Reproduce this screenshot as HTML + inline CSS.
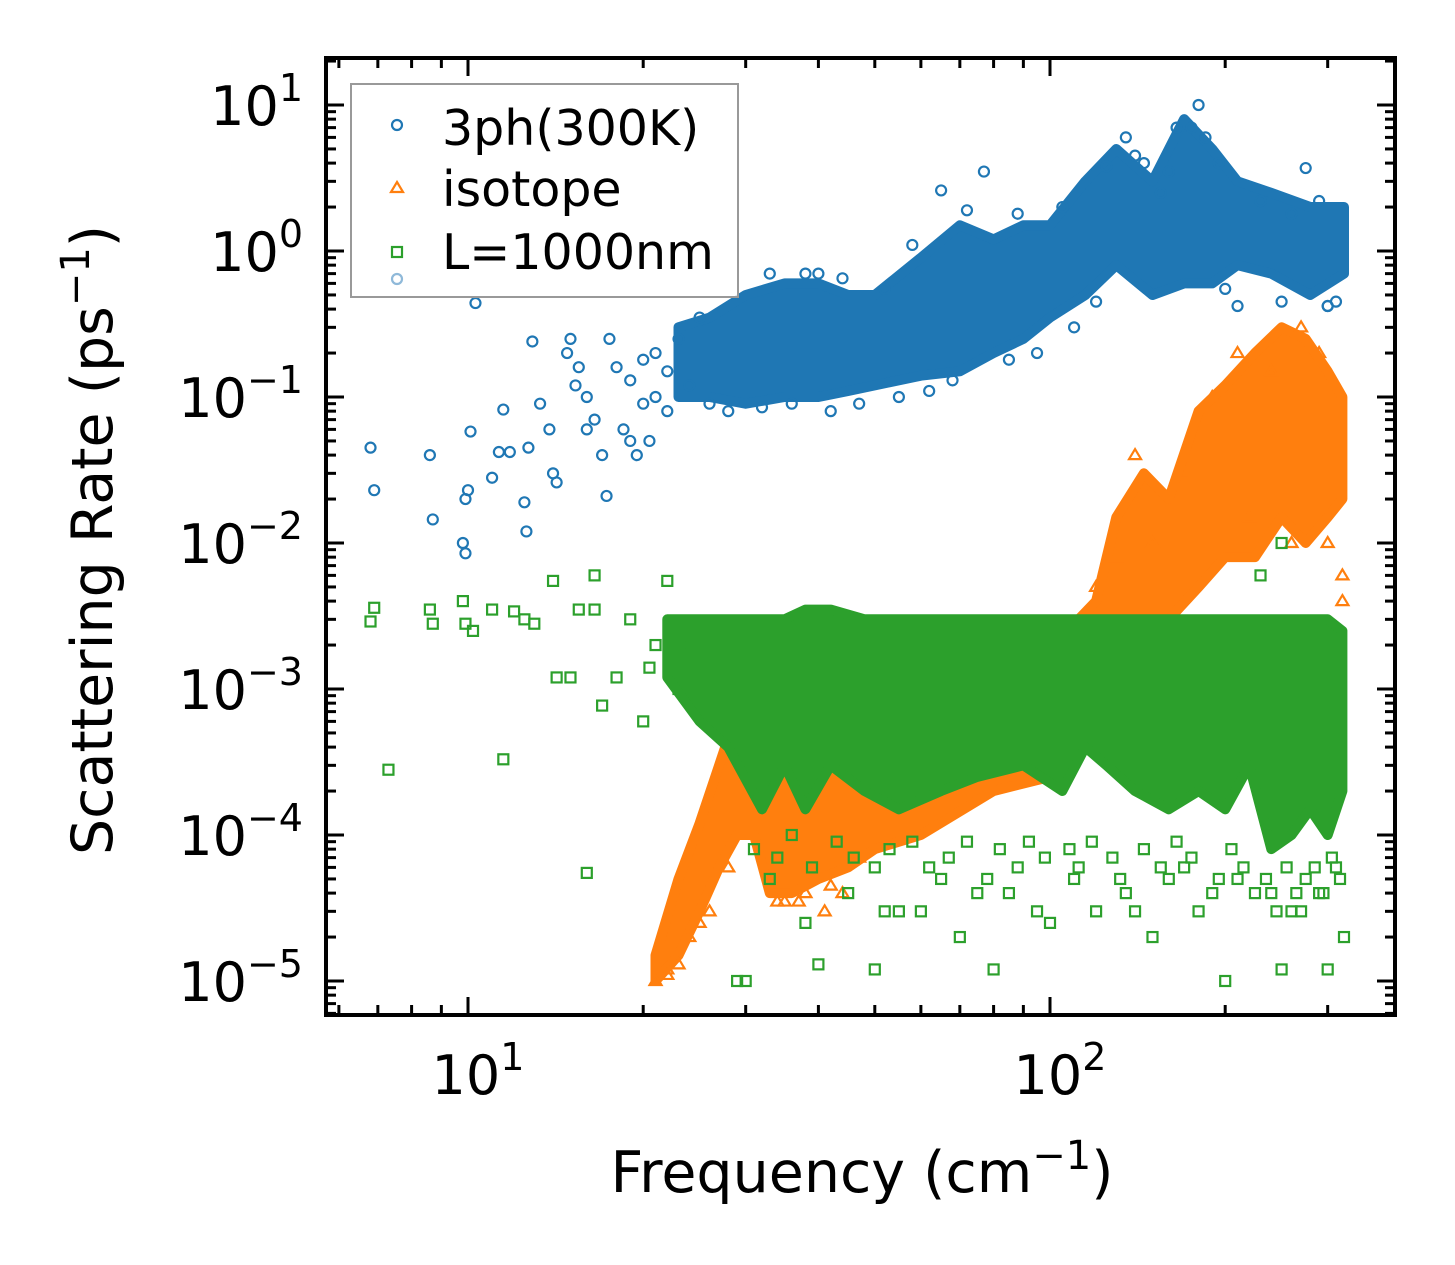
<!DOCTYPE html>
<html><head><meta charset="utf-8"><style>
html,body{margin:0;padding:0;background:#fff;}
svg{display:block;font-family:"DejaVu Sans","Liberation Sans",sans-serif;}
</style></head><body>
<svg id="chart" width="1455" height="1265" viewBox="0 0 1455 1265" xmlns="http://www.w3.org/2000/svg">
<g id="marks"></g>
<g id="axes"></g>
<g id="legend">
  <rect x="351" y="84" width="387" height="213" fill="#fff" fill-opacity="0.8" stroke="#999" stroke-width="2"/>
  <circle cx="397" cy="125" r="5" fill="none" stroke="#1f77b4" stroke-width="2.2"/>
  <text x="442" y="145" font-size="49">3ph(300K)</text>
  <path d="M397,182 L403,192 L391,192 Z" fill="none" stroke="#ff7f0e" stroke-width="2.2"/>
  <text x="442" y="206" font-size="49">isotope</text>
  <rect x="392" y="247" width="10" height="10" fill="none" stroke="#2ca02c" stroke-width="2.2"/>
  <text x="442" y="269" font-size="49">L=1000nm</text>
  <circle cx="397" cy="279" r="5" fill="none" stroke="#8fb9d9" stroke-width="2.2"/>
</g>
<text x="862" y="1192" font-size="57" text-anchor="middle">Frequency (cm<tspan dy="-23" font-size="40">−1</tspan><tspan dy="23">)</tspan></text>
<text transform="translate(112,540) rotate(-90)" font-size="57" text-anchor="middle">Scattering Rate (ps<tspan dy="-23" font-size="40">−1</tspan><tspan dy="23">)</tspan></text>
</svg>
<script>
// ---- data ----
const blueEnvF  = [23,26,30,35,40,45,50,60,70,80,90,100,115,130,150,170,190,210,240,280,320];
const blueEnvLo = [0.1,0.1,0.09,0.1,0.1,0.11,0.12,0.14,0.15,0.2,0.25,0.35,0.5,0.8,0.5,0.6,0.6,0.8,0.7,0.5,0.7];
const blueEnvHi = [0.3,0.35,0.5,0.6,0.6,0.5,0.5,0.9,1.5,1.2,1.5,1.5,3,5,3,8,5,3,2.5,2,2];
const blueF = [6.8,6.9,8.6,8.7,9.8,9.9,9.9,10,10.1,10.3,11,11.3,11.5,11.8,12.5,12.6,12.7,12.9,13.3,13.8,14,14.2,14.8,15,15.3,15.5,16,16,16.5,17,17.3,17.5,18,18.5,19,19,19.5,20,20,20.5,21,21,22,22,23,24,77,65,40,275,180,165,300,210,
  26,28,32,36,42,47,55,62,68,85,95,110,120,125,135,145,155,175,185,195,230,260,290,310,25,33,38,44,52,58,72,88,105,140,160,200,250,300];
const blueR = [0.045,0.023,0.04,0.0145,0.01,0.0085,0.02,0.023,0.058,0.44,0.028,0.042,0.082,0.042,0.019,0.012,0.045,0.24,0.09,0.06,0.03,0.026,0.2,0.25,0.12,0.16,0.1,0.06,0.07,0.04,0.021,0.25,0.16,0.06,0.05,0.13,0.04,0.09,0.18,0.05,0.2,0.1,0.15,0.08,0.25,0.12,3.5,2.6,0.7,3.7,10,7,0.42,0.42,
  0.09,0.08,0.085,0.09,0.08,0.09,0.1,0.11,0.13,0.18,0.2,0.3,0.45,3.8,6,4,2.5,7,6,4,2.2,1.8,2.2,0.45,0.35,0.7,0.7,0.65,0.55,1.1,1.9,1.8,2,4.5,3.5,0.55,0.45,0.42];
const orEnvF  = [21,23,25,27,29,31,33,36,40,45,50,60,80,100,112,120,130,145,160,180,200,225,250,275,300,318];
const orEnvLo = [1e-5,1.5e-5,3e-5,6e-5,1e-4,1e-4,4e-5,4e-5,5e-5,6e-5,8e-5,1e-4,2e-4,2.5e-4,4e-4,8e-4,1.5e-3,2e-3,3e-3,5e-3,8e-3,8e-3,1.5e-2,1e-2,1.5e-2,2e-2];
const orEnvHi = [1.5e-5,5e-5,1.2e-4,3e-4,7e-4,8e-4,2e-4,3e-4,5e-4,8e-4,1e-3,1e-3,1e-3,1.2e-3,3e-3,4e-3,1.5e-2,3e-2,2e-2,8e-2,0.12,0.2,0.3,0.25,0.15,0.1];
const orF = [21,22,24,26,28,34,37,41,44,115,130,150,220,260,300,318,318,22,23,25,35,38,42,47,120,140,170,190,210,240,270,290];
const orR = [1e-5,1.2e-5,2e-5,3e-5,6e-5,3.5e-5,3.5e-5,3e-5,4e-5,1e-3,8e-3,1e-2,1.5e-2,1e-2,1e-2,6e-3,4e-3,1.1e-5,1.3e-5,2.5e-5,3.5e-5,4e-5,4.5e-5,7e-5,5e-3,4e-2,3e-2,0.1,0.2,0.15,0.3,0.2];
const grEnvF  = [22,25,28,32,35,38,42,48,55,65,75,90,105,115,125,140,160,180,200,220,240,260,280,300,318];
const grEnvLo = [1.2e-3,6e-4,4e-4,1.5e-4,3e-4,1.5e-4,3e-4,2e-4,1.5e-4,2e-4,2.5e-4,3e-4,2e-4,4e-4,3e-4,2e-4,1.5e-4,2e-4,1.5e-4,3e-4,8e-5,1e-4,1.5e-4,1e-4,2e-4];
const grEnvHi = [3e-3,3e-3,3e-3,3e-3,3e-3,3.5e-3,3.5e-3,3e-3,3e-3,3e-3,3e-3,3e-3,3e-3,3e-3,3e-3,3e-3,3e-3,3e-3,3e-3,3e-3,3e-3,3e-3,3e-3,3e-3,2.5e-3];
const grF = [6.8,6.9,7.3,8.6,8.7,9.8,9.9,10.2,11,11.5,12,12.5,13,14,14.2,15,15.5,16,16.5,16.5,17,18,19,20,20.5,21,22,23,24,29,30,40,50,80,100,150,200,250,300,320,60,70,120,180,270,230,250,33,45,55,65,85,95,110,135,170,190,210,260,290,310,38,52,75,140,160,240,
  31,34,36,39,43,46,50,53,58,62,67,72,78,82,88,92,98,108,112,118,128,132,145,155,165,175,195,205,215,225,235,245,255,265,275,285,295,305,315];
const grR = [2.9e-3,3.6e-3,2.8e-4,3.5e-3,2.8e-3,4e-3,2.8e-3,2.5e-3,3.5e-3,3.3e-4,3.4e-3,3e-3,2.8e-3,5.5e-3,1.2e-3,1.2e-3,3.5e-3,5.5e-5,6e-3,3.5e-3,7.7e-4,1.2e-3,3e-3,6e-4,1.4e-3,2e-3,5.5e-3,1e-3,2e-3,1e-5,1e-5,1.3e-5,1.2e-5,1.2e-5,2.5e-5,2e-5,1e-5,1.2e-5,1.2e-5,2e-5,3e-5,2e-5,3e-5,3e-5,3e-5,6e-3,1e-2,5e-5,4e-5,3e-5,5e-5,4e-5,3e-5,5e-5,4e-5,6e-5,4e-5,5e-5,3e-5,4e-5,6e-5,2.5e-5,3e-5,4e-5,3e-5,5e-5,4e-5,
  8e-5,7e-5,1e-4,6e-5,9e-5,7e-5,6e-5,8e-5,9e-5,6e-5,7e-5,9e-5,5e-5,8e-5,6e-5,9e-5,7e-5,8e-5,6e-5,9e-5,7e-5,5e-5,8e-5,6e-5,9e-5,7e-5,5e-5,8e-5,6e-5,4e-5,5e-5,3e-5,6e-5,4e-5,5e-5,6e-5,4e-5,7e-5,5e-5];
const xTickVals = [1,2];
const xTickLabels = ["1","2"];
const yTickVals = [1,0,-1,-2,-3,-4,-5];
const yTickLabels = ["1","0","−1","−2","−3","−4","−5"];

// ---- axes functions ----
const L=326,R=1395,T=58,B=1015;
const X = f => 468 + (Math.log10(f)-1)*582;
const Y = r => 251 - Math.log10(r)*146;
const NS="http://www.w3.org/2000/svg";
const marks=document.getElementById('marks'), axes=document.getElementById('axes');
function mk(tag,attrs,parent){const e=document.createElementNS(NS,tag);for(const k in attrs)e.setAttribute(k,attrs[k]);parent.appendChild(e);return e;}

const clip=mk('clipPath',{id:'pc'},marks);mk('rect',{x:L,y:T,width:R-L,height:B-T},clip);
function envelope(F,Lo,Hi,color,name){
  let d='M'+F.map((f,i)=>X(f).toFixed(1)+','+Y(Hi[i]).toFixed(1)).join(' L');
  for(let i=F.length-1;i>=0;i--) d+=' L'+X(F[i]).toFixed(1)+','+Y(Lo[i]).toFixed(1);
  d+=' Z';
  const p=mk('path',{d:d,fill:color,stroke:color,'stroke-width':10,'stroke-linejoin':'round','clip-path':'url(#pc)'},marks);
  
  
}
function scatter(F,Rr,color,shape,name){
  const g=mk('g',{fill:'none',stroke:color,'stroke-width':2.2,'clip-path':'url(#pc)'},marks);
  
  
  F.forEach((f,i)=>{const x=X(f),y=Y(Rr[i]);let e;
    if(shape==='c') e=mk('circle',{cx:x,cy:y,r:5},g);
    else if(shape==='t') e=mk('path',{d:`M${x},${y-6} L${x+6},${y+4} L${x-6},${y+4} Z`},g);
    else e=mk('rect',{x:x-5,y:y-5,width:10,height:10},g);
    
    
  });
}
envelope(blueEnvF,blueEnvLo,blueEnvHi,'#1f77b4','series-3ph-dense');
scatter(blueF,blueR,'#1f77b4','c','series-3ph-points');
envelope(orEnvF,orEnvLo,orEnvHi,'#ff7f0e','series-isotope-dense');
scatter(orF,orR,'#ff7f0e','t','series-isotope-points');
envelope(grEnvF,grEnvLo,grEnvHi,'#2ca02c','series-boundary-dense');
scatter(grF,grR,'#2ca02c','s','series-boundary-points');

// frame
const fr=mk('rect',{x:L,y:T,width:R-L,height:B-T,fill:'none',stroke:'#000','stroke-width':4},axes);


for(let dec=0;dec<=2;dec++){for(let m=1;m<=9;m++){const v=m*Math.pow(10,dec);const x=X(v);if(x<L||x>R)continue;
  const len=m===1?18:10;
  const t1=mk('line',{x1:x,y1:B,x2:x,y2:B-len,stroke:'#000','stroke-width':3},axes);
  
  
  const t2=mk('line',{x1:x,y1:T,x2:x,y2:T+len,stroke:'#000','stroke-width':3},axes);
  
  
}}
for(let e=-6;e<=1;e++){for(let m=1;m<=9;m++){const v=m*Math.pow(10,e);const y=Y(v);if(y<T||y>B)continue;
  const len=m===1?18:10;
  const t1=mk('line',{x1:L,y1:y,x2:L+len,y2:y,stroke:'#000','stroke-width':3},axes);
  
  
  const t2=mk('line',{x1:R,y1:y,x2:R-len,y2:y,stroke:'#000','stroke-width':3},axes);
  
  
}}
xTickVals.forEach((e,i)=>{const x=X(Math.pow(10,e));
  const t=mk('text',{x:x+10,y:1094,'font-size':54,'text-anchor':'middle'},axes);
  
  
  t.innerHTML='10<tspan dy="-24" font-size="38">'+xTickLabels[i]+'</tspan>';
});
yTickVals.forEach((e,i)=>{const y=Y(Math.pow(10,e));
  const t=mk('text',{x:303,y:y+20,'font-size':54,'text-anchor':'end'},axes);
  
  
  t.innerHTML='10<tspan dy="-24" font-size="38">'+yTickLabels[i]+'</tspan>';
});
</script>
</body></html>
